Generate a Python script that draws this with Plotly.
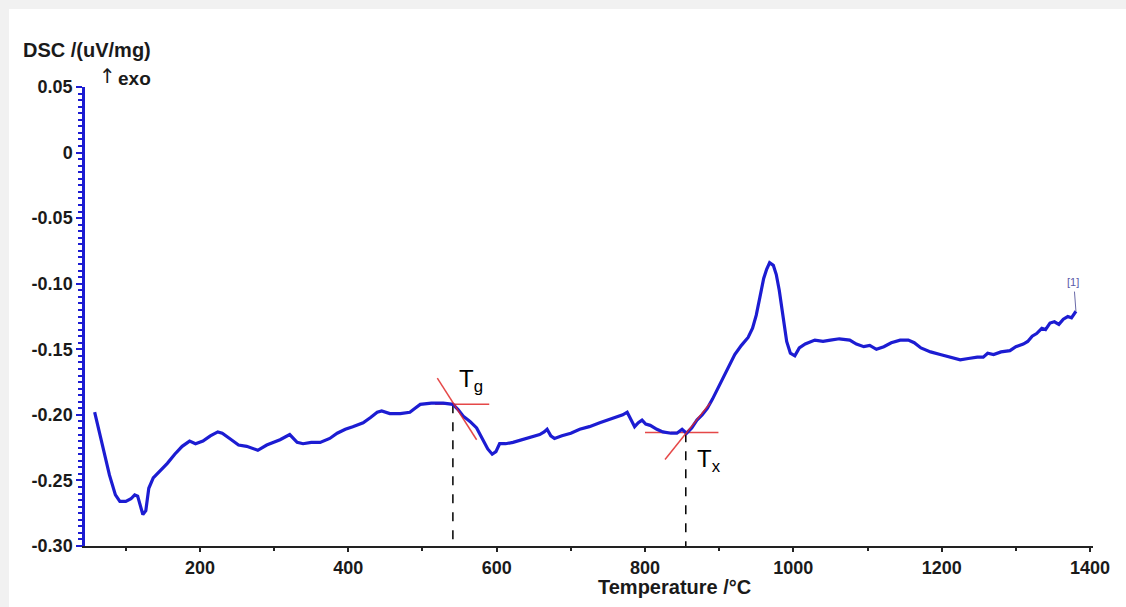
import plotly.graph_objects as go

# ---- data ----
temp = [58, 63, 70, 78, 86, 92, 100, 107, 112, 116, 120, 123, 127, 131, 137, 146, 156, 166, 176, 186,
        194, 204, 214, 224, 230, 240, 252, 263, 278, 290, 308, 321, 326, 331, 339, 350, 362, 375, 385, 396,
        406, 420, 430, 439, 445, 456, 470, 483, 490, 497, 512, 528, 541, 548, 555, 564, 573, 582, 588, 594,
        599, 604, 612, 622, 635, 648, 658, 664, 668, 673, 678, 688, 700, 712, 725, 739, 750, 762, 770, 776,
        781, 786, 791, 796, 801, 807, 816, 824, 835, 843, 850, 856, 863, 870, 877, 884, 891, 897, 905, 913,
        921, 930, 939, 945, 950, 955, 960, 964, 968, 973, 977, 981, 986, 991, 996, 1002, 1008, 1016, 1029, 1040,
        1050, 1062, 1076, 1085, 1095, 1103, 1112, 1122, 1132, 1144, 1155, 1163, 1172, 1185, 1198, 1212, 1225, 1236, 1248, 1256,
        1262, 1270, 1280, 1292, 1300, 1310, 1316, 1322, 1328, 1335, 1340, 1346, 1352, 1358, 1364, 1370, 1375, 1381]
dsc = [-0.198, -0.210, -0.228, -0.246, -0.261, -0.266, -0.266, -0.264, -0.261, -0.262, -0.270, -0.276, -0.273, -0.256, -0.248, -0.243, -0.237, -0.230, -0.224, -0.220,
       -0.222, -0.220, -0.216, -0.213, -0.214, -0.218, -0.223, -0.224, -0.227, -0.223, -0.219, -0.215, -0.218, -0.221, -0.222, -0.221, -0.221, -0.218, -0.214, -0.211,
       -0.209, -0.206, -0.202, -0.198, -0.197, -0.199, -0.199, -0.198, -0.195, -0.192, -0.191, -0.191, -0.192, -0.196, -0.201, -0.205, -0.210, -0.219, -0.226, -0.230,
       -0.228, -0.222, -0.222, -0.221, -0.219, -0.217, -0.215, -0.213, -0.211, -0.216, -0.218, -0.216, -0.214, -0.211, -0.209, -0.206, -0.204, -0.202, -0.200, -0.198,
       -0.203, -0.209, -0.206, -0.204, -0.207, -0.208, -0.211, -0.213, -0.214, -0.214, -0.211, -0.214, -0.210, -0.204, -0.200, -0.195, -0.188, -0.181, -0.173, -0.163,
       -0.154, -0.147, -0.141, -0.134, -0.124, -0.110, -0.096, -0.089, -0.084, -0.086, -0.093, -0.105, -0.124, -0.144, -0.153, -0.155, -0.149, -0.146, -0.143, -0.144,
       -0.143, -0.142, -0.143, -0.146, -0.148, -0.147, -0.150, -0.148, -0.145, -0.143, -0.143, -0.145, -0.149, -0.152, -0.154, -0.156, -0.158, -0.157, -0.156, -0.156,
       -0.153, -0.154, -0.152, -0.151, -0.148, -0.146, -0.144, -0.140, -0.138, -0.134, -0.135, -0.130, -0.129, -0.131, -0.127, -0.125, -0.126, -0.121]

# tangent construction lines
tg_flat_x = [517, 590]
tg_flat_y = [-0.192, -0.192]
tg_steep_x = [520, 573]
tg_steep_y = [-0.172, -0.219]
tx_flat_x = [800, 899]
tx_flat_y = [-0.2135, -0.2135]
tx_steep_x = [827, 888]
tx_steep_y = [-0.234, -0.191]

# onset markers
tg_value = 541
tg_level = -0.192
tx_value = 855
tx_level = -0.214

y_ticks = [-0.30, -0.25, -0.20, -0.15, -0.10, -0.05, 0.0, 0.05]
y_ticktext = ["-0.30", "-0.25", "-0.20", "-0.15", "-0.10", "-0.05", "0", "0.05"]
x_ticks = [200, 400, 600, 800, 1000, 1200, 1400]

FONT = "Liberation Sans, Arial, sans-serif"
BLUE = "#1c1cd2"
RED = "rgba(225,40,40,0.85)"

fig = go.Figure()

fig.add_trace(go.Scatter(x=tg_flat_x, y=tg_flat_y, mode="lines",
                         line=dict(color=RED, width=1.5), hoverinfo="skip"))
fig.add_trace(go.Scatter(x=tx_flat_x, y=tx_flat_y, mode="lines",
                         line=dict(color=RED, width=1.5), hoverinfo="skip"))
fig.add_trace(go.Scatter(x=[tg_value, tg_value], y=[tg_level, -0.30], mode="lines",
                         line=dict(color="black", width=1.5, dash="dash"), hoverinfo="skip"))
fig.add_trace(go.Scatter(x=[tx_value, tx_value], y=[tx_level, -0.30], mode="lines",
                         line=dict(color="black", width=1.5, dash="dash"), hoverinfo="skip"))

fig.add_trace(go.Scatter(x=temp, y=dsc, mode="lines",
                         line=dict(color=BLUE, width=3.2), name="DSC"))

fig.add_trace(go.Scatter(x=tg_steep_x, y=tg_steep_y, mode="lines",
                         line=dict(color=RED, width=1.5), hoverinfo="skip"))
fig.add_trace(go.Scatter(x=tx_steep_x, y=tx_steep_y, mode="lines",
                         line=dict(color=RED, width=1.5), hoverinfo="skip"))

# curve label marker line
fig.add_trace(go.Scatter(x=[1379, 1381], y=[-0.106, -0.121], mode="lines",
                         line=dict(color="#6a6aa8", width=1), hoverinfo="skip"))

W, H = 1126, 607
L, R, T, B = 85, 33, 87, 61
pw, ph = W - L - R, H - T - B

fig.update_layout(
    width=W, height=H,
    margin=dict(l=L, r=R, t=T, b=B),
    paper_bgcolor="#f1f1f1",
    plot_bgcolor="white",
    showlegend=False,
    font=dict(family=FONT, color="#1a1a1a"),
    xaxis=dict(
        range=[45, 1404], tickvals=x_ticks, ticks="outside", ticklen=4, tickwidth=2,
        tickcolor="#222", showline=True, linecolor="#222", linewidth=2,
        showgrid=False, zeroline=False,
        tickfont=dict(size=18, family=FONT, color="#1a1a1a", weight="bold"),
        minor=dict(tickmode="linear", tick0=100, dtick=200, ticks="outside", ticklen=3,
                   tickcolor="#222", tickwidth=2),
    ),
    yaxis=dict(
        range=[-0.30, 0.05], tickvals=y_ticks, ticktext=y_ticktext, ticks="outside",
        ticklen=6, tickwidth=2, tickcolor=BLUE, showline=True, linecolor=BLUE, linewidth=2.5,
        showgrid=False, zeroline=False,
        tickfont=dict(size=18, family=FONT, color="#1a1a1a", weight="bold"),
        minor=dict(tickmode="linear", tick0=0, dtick=0.005, ticks="outside", ticklen=4,
                   tickcolor=BLUE, tickwidth=1.5),
    ),
    shapes=[dict(type="rect", xref="paper", yref="paper", layer="below",
                 x0=(9 - L) / pw, x1=(W + 5 - L) / pw,
                 y0=(B - H - 5) / ph, y1=(H - B - 9) / ph,
                 fillcolor="white", line=dict(width=0))],
    annotations=[
        dict(text="<b>DSC /(uV/mg)</b>", xref="paper", yref="paper",
             x=(21 - L) / pw, y=(H - B - 50) / ph, xanchor="left", yanchor="middle",
             showarrow=False, font=dict(size=20, family=FONT, color="#1a1a1a")),
        dict(text="↑", xref="paper", yref="paper",
             x=(97 - L) / pw, y=(H - B - 76) / ph, xanchor="left", yanchor="middle",
             showarrow=False, font=dict(size=20, family="DejaVu Sans, sans-serif", color="#1a1a1a")),
        dict(text="<b>exo</b>", xref="paper", yref="paper",
             x=(116 - L) / pw, y=(H - B - 78) / ph, xanchor="left", yanchor="middle",
             showarrow=False, font=dict(size=19, family=FONT, color="#1a1a1a")),
        dict(text="<b>Temperature /°C</b>", xref="paper", yref="paper",
             x=(674 - L) / pw, y=(H - B - 587) / ph, xanchor="center", yanchor="middle",
             showarrow=False, font=dict(size=20, family=FONT, color="#1a1a1a")),
        dict(text="T<sub>g</sub>", x=547, y=-0.174, xanchor="left", yanchor="middle",
             showarrow=False, font=dict(size=24, family=FONT, color="black")),
        dict(text="T<sub>x</sub>", x=868, y=-0.235, xanchor="left", yanchor="middle",
             showarrow=False, font=dict(size=24, family=FONT, color="black")),
        dict(text="[1]", x=1377, y=-0.099, xanchor="center", yanchor="middle",
             showarrow=False, font=dict(size=11, family=FONT, color="#5a5aa8")),
    ],
)

fig.write_html("out.html")
